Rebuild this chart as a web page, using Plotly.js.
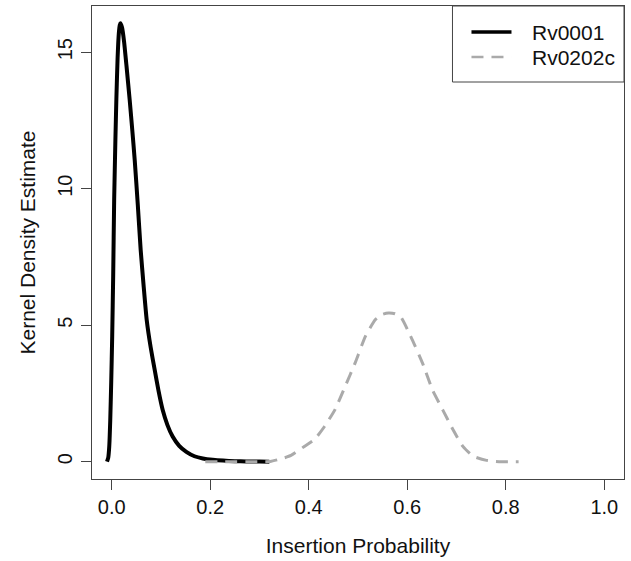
<!DOCTYPE html>
<html>
<head>
<meta charset="utf-8">
<script src="https://cdn.plot.ly/plotly-3.0.1.min.js"></script>
<style>html,body{margin:0;padding:0;background:#fff;}#chart{width:631px;height:561px;}</style>
</head>
<body>
<div id="chart"></div>
<script>
// Rv0001 kernel density estimate
const rv0001X = [-0.0095, -0.007, -0.005, -0.003, -0.001, 0.001, 0.003, 0.005, 0.0075, 0.0095, 0.012, 0.0145, 0.0165, 0.0177, 0.021, 0.025, 0.030, 0.0365, 0.042, 0.0467, 0.053, 0.0588, 0.065, 0.071, 0.079, 0.0872, 0.095, 0.1034, 0.113, 0.1237, 0.137, 0.1515, 0.168, 0.185, 0.205, 0.226, 0.25, 0.273, 0.30, 0.32];
const rv0001Y = [0.0, 0.15, 0.55, 1.5, 2.9, 4.6, 6.8, 9.6, 11.8, 13.3, 14.8, 15.7, 16.0, 16.06, 15.9, 15.4, 14.5, 13.25, 12.1, 11.05, 9.4, 7.76, 6.4, 5.2, 4.2, 3.37, 2.6, 1.9, 1.35, 0.92, 0.58, 0.36, 0.2, 0.12, 0.07, 0.04, 0.02, 0.01, 0.005, 0.0];

// Rv0202c kernel density estimate
const rv0202cX = [0.19, 0.22, 0.25, 0.28, 0.30, 0.322, 0.343, 0.364, 0.391, 0.412, 0.432, 0.453, 0.474, 0.494, 0.515, 0.535, 0.55, 0.562, 0.575, 0.587, 0.607, 0.631, 0.651, 0.672, 0.693, 0.713, 0.734, 0.761, 0.78, 0.796, 0.826];
const rv0202cY = [0.0, 0.0, 0.0, 0.0, 0.0, 0.01, 0.1, 0.23, 0.56, 0.82, 1.29, 1.9, 2.76, 3.61, 4.59, 5.2, 5.4, 5.45, 5.42, 5.3, 4.59, 3.61, 2.64, 1.9, 1.17, 0.56, 0.2, 0.05, 0.01, 0.0, 0.0];

const seriesNames = ["Rv0001", "Rv0202c"];
const seriesColors = ["#000000", "#aaaaaa"];
const seriesDash = ["solid", "12px,8px"];
const seriesWidth = [4, 3];
const xTickVals = [0, 0.2, 0.4, 0.6, 0.8, 1.0];
const xTickText = ["0.0", "0.2", "0.4", "0.6", "0.8", "1.0"];
const yTickVals = [0, 5, 10, 15];
const yTickText = ["0", "5", "10", "15"];

const FAMILY = "Liberation Sans, Arial, sans-serif";
const TITLE_FONT = {family: FAMILY, size: 21, color: "#111"};
const TICK_FONT = {family: FAMILY, size: 20, color: "#111"};

const xs = [rv0001X, rv0202cX];
const ys = [rv0001Y, rv0202cY];
const traces = seriesNames.map((n, i) => ({
  x: xs[i], y: ys[i], name: n, type: "scatter", mode: "lines",
  line: {color: seriesColors[i], width: seriesWidth[i], dash: seriesDash[i], shape: "spline", smoothing: 0.5}
}));

// Legend drawn in the top-right corner of the plot box (paper coordinates)
const legBox = {x0: 0.6776, x1: 1, y0: 0.8393, y1: 1};
const legRowsY = [0.945, 0.892];
const legSample = [0.7133, 0.7885];
const legTextX = 0.8224;
const shapes = [{type: "rect", xref: "paper", yref: "paper", x0: legBox.x0, x1: legBox.x1, y0: legBox.y0, y1: legBox.y1,
                 line: {color: "#444", width: 1}, fillcolor: "#ffffff", layer: "above"}];
const annotations = [];
seriesNames.forEach((n, i) => {
  shapes.push({type: "line", xref: "paper", yref: "paper", x0: legSample[0], x1: legSample[1], y0: legRowsY[i], y1: legRowsY[i],
               line: {color: seriesColors[i], width: seriesWidth[i] - 0.5, dash: seriesDash[i]}, layer: "above"});
  annotations.push({xref: "paper", yref: "paper", x: legTextX, y: legRowsY[i], xanchor: "left", yanchor: "middle",
                    text: n, showarrow: false, font: TITLE_FONT});
});

const layout = {
  width: 631, height: 561,
  margin: {l: 92, r: 7, t: 6, b: 82, pad: 0},
  paper_bgcolor: "#ffffff", plot_bgcolor: "#ffffff",
  font: TICK_FONT,
  showlegend: false,
  shapes: shapes,
  annotations: annotations,
  xaxis: {
    range: [-0.04, 1.04], tickvals: xTickVals, ticktext: xTickText, tickfont: TICK_FONT,
    ticks: "outside", ticklen: 10, tickwidth: 1, tickcolor: "#444",
    showline: true, mirror: true, linecolor: "#444", linewidth: 1,
    showgrid: false, zeroline: false, ticklabelstandoff: 0,
    title: {text: "Insertion Probability", font: TITLE_FONT, standoff: 21}
  },
  yaxis: {
    range: [-0.633, 16.69], tickvals: yTickVals, ticktext: yTickText, tickfont: TICK_FONT,
    ticks: "outside", ticklen: 10, tickwidth: 1, tickcolor: "#444", tickangle: -90,
    showline: true, mirror: true, linecolor: "#444", linewidth: 1,
    showgrid: false, zeroline: false, ticklabelstandoff: 1,
    title: {text: "Kernel Density Estimate", font: TITLE_FONT, standoff: 12}
  }
};

Plotly.newPlot("chart", traces, layout, {displayModeBar: false, staticPlot: true});
</script>
</body>
</html>
